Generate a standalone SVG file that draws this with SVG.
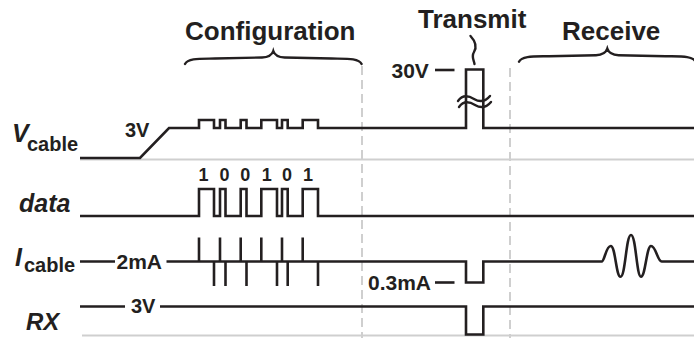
<svg xmlns="http://www.w3.org/2000/svg" width="694" height="338" viewBox="0 0 694 338">
<defs>
<style>
.t{font-family:"Liberation Sans",Arial,sans-serif;font-weight:bold;fill:#231f20}
.ti{font-family:"Liberation Sans",Arial,sans-serif;font-weight:bold;font-style:italic;fill:#231f20}
.sig{fill:none;stroke:#231f20;stroke-width:2.6;stroke-linejoin:miter}
.br{fill:none;stroke:#231f20;stroke-width:2.4;stroke-linecap:round}
.grid{fill:none;stroke:#cfcfcf;stroke-width:2}
.dash{fill:none;stroke:#cfcfcf;stroke-width:2;stroke-dasharray:9 5}
</style>
</defs>
<rect width="694" height="338" fill="#ffffff"/>
<g id="grid">
<line class="grid" x1="80" y1="159.5" x2="694" y2="159.5"/>
<line class="grid" x1="82" y1="335.5" x2="694" y2="335.5"/>
<line class="dash" x1="362" y1="66" x2="362" y2="338"/>
<line class="dash" x1="510" y1="68" x2="510" y2="338"/>
</g>
<g id="phases">
<text class="t" x="185" y="40" font-size="26">Configuration</text>
<path class="br" d="M185,64 C188,58 200,58.8 215,58.5 L262,57.5 C268,57.3 272,55 273.3,51 C274.6,55 278.6,57.3 284.6,57.5 L331.6,58.5 C346.6,58.8 358.6,58 361.6,64"/>
<text class="t" x="418" y="28" font-size="26">Transmit</text>
<path class="br" d="M470.5,36 C476,42 477,47 474,52 C471,57 474,60 474.5,64"/>
<text class="t" x="562" y="40" font-size="26">Receive</text>
<path class="br" d="M519,61.7 C522,55.7 534,56.5 549,56.2 L596,55.2 C602,55 606,52.7 607.3,48.7 C608.6,52.7 612.6,55 618.6,55.2 L665.6,56.2 C680.6,56.5 692.6,55.7 695.6,61.7"/>
</g>
<g id="vcable">
<text class="ti" x="12" y="142" font-size="25">V</text>
<text class="t" x="27" y="151" font-size="20">cable</text>
<text class="t" x="125" y="136.5" font-size="20">3V</text>
<path class="sig" d="M80,158 L140,158 L169,128 L199,128 L199,120 L214,120 L214,128 L220,128 L220,120 L225.5,120 L225.5,128 L240.7,128 L240.7,120 L246.5,120 L246.5,128 L261.3,128 L261.3,120 L277,120 L277,128 L282,128 L282,120 L287.7,120 L287.7,128 L302.7,128 L302.7,120 L318,120 L318,128 L466,128 L466,69.5 L483.3,69.5 L483.3,128 L694,128"/>
<text class="t" x="391.5" y="77.5" font-size="21">30V</text>
<line class="sig" x1="435" y1="70" x2="454.5" y2="70"/>
<path class="br" d="M458,101 C463,94 469,96 474,99 C479,102 485,102 490,96"/>
<path class="br" d="M459,107 C464,100 470,102 475,105 C480,108 486,108 491,102"/>
</g>
<g id="data">
<text class="ti" x="19" y="212" font-size="25">data</text>
<g class="t" font-size="18" text-anchor="middle">
<text x="203.5" y="180.5">1</text>
<text x="224.5" y="180.5">0</text>
<text x="245.3" y="180.5">0</text>
<text x="266.7" y="180.5">1</text>
<text x="287" y="180.5">0</text>
<text x="308" y="180.5">1</text>
</g>
<path class="sig" d="M80,216 L199,216 L199,189 L214,189 L214,216 L220,216 L220,189 L225.5,189 L225.5,216 L240.7,216 L240.7,189 L246.5,189 L246.5,216 L261.3,216 L261.3,189 L277,189 L277,216 L282,216 L282,189 L287.7,189 L287.7,216 L302.7,216 L302.7,189 L318,189 L318,216 L694,216"/>
</g>
<g id="icable">
<text class="ti" x="15" y="266" font-size="25">I</text>
<text class="t" x="24" y="272" font-size="20">cable</text>
<text class="t" x="116.5" y="268.5" font-size="21">2mA</text>
<path class="sig" d="M80,261.5 L115,261.5 M166.5,261.5 L466,261.5 L466,282.5 L483.3,282.5 L483.3,261.5 L601.7,261.5 C604.5,261.5 606,246 610.7,246 C615.5,246 616,276.7 620.5,276.7 C625.5,276.7 626,235 631,235 C636,235 636.5,276.7 641,276.7 C645.5,276.7 646.5,246 651,246 C656,246 657.5,261.5 661.7,261.5 L694,261.5"/>
<path class="sig" d="M199,261.5 V237.5 M220,261.5 V237.5 M240.7,261.5 V237.5 M261.3,261.5 V237.5 M282,261.5 V237.5 M302.7,261.5 V237.5 M214,261.5 V286 M225.5,261.5 V286 M246.5,261.5 V286 M277,261.5 V286 M287.7,261.5 V286 M318,261.5 V286"/>
<text class="t" x="368" y="290" font-size="21">0.3mA</text>
<line class="sig" x1="435" y1="282.5" x2="454.5" y2="282.5"/>
</g>
<g id="rx">
<text class="ti" x="26" y="330" font-size="24">RX</text>
<text class="t" x="131" y="313" font-size="20">3V</text>
<path class="sig" d="M80,306.5 L125,306.5 M160,306.5 L466,306.5 L466,334.5 L483.3,334.5 L483.3,306.5 L694,306.5"/>
</g>
</svg>
